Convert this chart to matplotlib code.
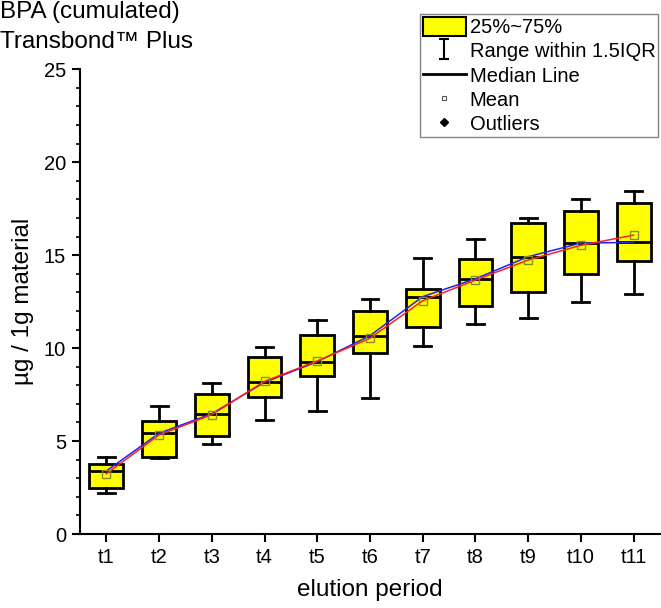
import matplotlib
matplotlib.use("Agg")
import matplotlib.pyplot as plt
from matplotlib.patches import Patch
from matplotlib.lines import Line2D
from matplotlib.path import Path
from matplotlib.ticker import MultipleLocator

plt.rcParams['font.family'] = ['Liberation Sans', 'DejaVu Sans']

# ---- data ----
periods = ["t1", "t2", "t3", "t4", "t5", "t6", "t7", "t8", "t9", "t10", "t11"]
whisker_low = [2.19, 4.07, 4.84, 6.11, 6.60, 7.33, 10.13, 11.30, 11.60, 12.50, 12.93]
q1 = [2.49, 4.13, 5.25, 7.39, 8.50, 9.75, 11.15, 12.28, 13.00, 13.99, 14.67]
median = [3.39, 5.42, 6.47, 8.16, 9.27, 10.67, 12.77, 13.73, 14.92, 15.65, 15.69]
q3 = [3.75, 6.06, 7.53, 9.50, 10.69, 12.01, 13.16, 14.78, 16.71, 17.39, 17.79]
whisker_high = [4.16, 6.87, 8.12, 10.04, 11.49, 12.62, 14.86, 15.89, 17.00, 18.02, 18.43]
mean = [3.24, 5.33, 6.42, 8.21, 9.31, 10.53, 12.55, 13.66, 14.74, 15.53, 16.08]

title_lines = ["BPA (cumulated)", "Transbond\u2122 Plus"]
xlabel = "elution period"
ylabel = "\u00b5g / 1g material"
legend_labels = ["25%~75%", "Range within 1.5IQR", "Median Line", "Mean", "Outliers"]

W, H = 661, 608
fig = plt.figure(figsize=(W / 100, H / 100), dpi=100)
ax = fig.add_axes([80 / W, 74 / H, 580 / W, 464.7 / H])

positions = list(range(1, len(periods) + 1))
stats = []
for i in range(len(periods)):
    stats.append(dict(med=median[i], q1=q1[i], q3=q3[i], whislo=whisker_low[i],
                      whishi=whisker_high[i], mean=mean[i], fliers=[], label=periods[i]))

lw = 2.0
ax.bxp(stats, positions=positions, widths=0.64, patch_artist=True,
       showmeans=False, showfliers=False,
       boxprops=dict(facecolor='#ffff00', edgecolor='black', linewidth=lw),
       whiskerprops=dict(color='black', linewidth=lw),
       capprops=dict(color='black', linewidth=lw),
       medianprops=dict(color='black', linewidth=lw),
       capwidths=0.32, zorder=2)

ax.plot(positions, median, color='#1f1fff', linewidth=1.1, zorder=3)
ax.plot(positions, mean, color='#ff1f1f', linewidth=1.1, zorder=3)
ax.plot(positions, mean, linestyle='none', marker='s', markersize=5.5,
        markerfacecolor='none', markeredgecolor='#8c8c20', markeredgewidth=1.0, zorder=4)

ax.set_xlim(0.5, 11.5)
ax.set_ylim(0, 25)
ax.set_xticks(positions)
ax.set_xticklabels(periods)
ax.yaxis.set_major_locator(MultipleLocator(5))
ax.yaxis.set_minor_locator(MultipleLocator(1))
for s in ['top', 'right']:
    ax.spines[s].set_visible(False)
for s in ['left', 'bottom']:
    ax.spines[s].set_linewidth(1.5)
ax.tick_params(axis='both', which='major', direction='out', length=6, width=1.5,
               labelsize=14.5, pad=4)
ax.tick_params(axis='y', which='minor', direction='out', length=3, width=1.2)

ax.set_xlabel(xlabel, fontsize=17.5, labelpad=9)
ax.set_ylabel(ylabel, fontsize=17.5)
ax.yaxis.set_label_coords(-(80 - 34) / 580, 0.5)

fig.text(0, 1 - 18 / H, title_lines[0], fontsize=17.5, va='baseline', ha='left')
fig.text(0, 1 - 48 / H, title_lines[1], fontsize=17.5, va='baseline', ha='left')

# legend handles
ibeam = Path([(-0.5, 1), (0.5, 1), (0, 1), (0, -1), (-0.5, -1), (0.5, -1)],
             [Path.MOVETO, Path.LINETO, Path.MOVETO, Path.LINETO, Path.MOVETO, Path.LINETO])
handles = [
    Patch(facecolor='#ffff00', edgecolor='black', linewidth=1.5),
    Line2D([], [], linestyle='none', marker=ibeam, markersize=14, markeredgewidth=1.5,
           markeredgecolor='black', markerfacecolor='none'),
    Line2D([], [], color='black', linewidth=2),
    Line2D([], [], linestyle='none', marker='s', markersize=3.5, markerfacecolor='white',
           markeredgecolor='#555555', markeredgewidth=0.8),
    Line2D([], [], linestyle='none', marker='D', markersize=4.5, color='black'),
]
leg = fig.legend(handles, legend_labels, loc='upper right',
                 bbox_to_anchor=(658.3 / W, 1 - 14 / H), bbox_transform=fig.transFigure,
                 fontsize=14.5, frameon=True, fancybox=False, borderaxespad=0,
                 handlelength=2.1, handleheight=1.05, handletextpad=0.2,
                 borderpad=0.15, labelspacing=0.2)
leg.get_frame().set_edgecolor('#666666')
leg.get_frame().set_linewidth(1.0)

fig.savefig("out.png", dpi=100)
